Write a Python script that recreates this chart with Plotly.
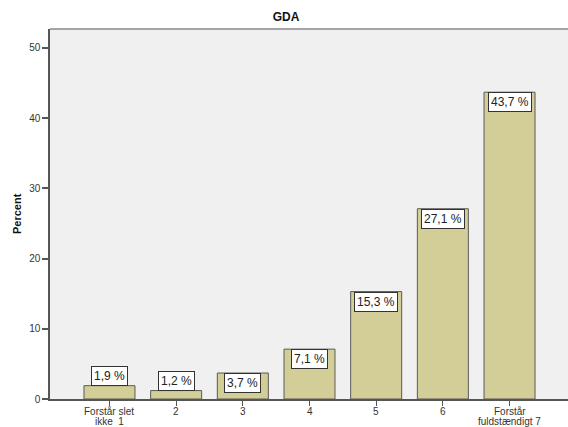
import plotly.graph_objects as go

# Response categories (one list entry per label line) and percentage per category
categories = [
    ["Forstår slet", "ikke  1"],
    ["2"],
    ["3"],
    ["4"],
    ["5"],
    ["6"],
    ["Forstår", "fuldstændigt 7"],
]
percent = [1.9, 1.2, 3.7, 7.1, 15.3, 27.1, 43.7]
y_ticks = [0, 10, 20, 30, 40, 50]

positions = list(range(1, len(categories) + 1))

BAR_FILL = "#D3CE97"
BAR_LINE = "#5A5A5A"
AXIS_COLOR = "#555555"
FONT = "Liberation Sans, Arial, sans-serif"

fig = go.Figure(
    go.Bar(
        x=positions,
        y=percent,
        width=0.765,
        marker=dict(color=BAR_FILL, line=dict(color=BAR_LINE, width=1)),
        hoverinfo="skip",
    )
)

# Value labels: boxed text, inside the bar top when it fits, above otherwise
for pos, val in zip(positions, percent):
    inside = val >= 3.0
    fig.add_annotation(
        x=pos,
        y=val,
        xref="x",
        yref="y",
        text=f"{val:.1f} %".replace(".", ","),
        showarrow=False,
        yanchor="top" if inside else "bottom",
        xanchor="center",
        bgcolor="white",
        bordercolor="#333333",
        borderwidth=1,
        borderpad=2,
        font=dict(family=FONT, size=12, color="#222222"),
    )

# Category labels under the axis, with tight line spacing
line_offsets = [-12.5, -22.5]
for pos, lines in zip(positions, categories):
    for offset, line in zip(line_offsets, lines):
        fig.add_annotation(
            x=pos,
            y=0,
            xref="x",
            yref="paper",
            text=line,
            showarrow=False,
            xanchor="center",
            yanchor="middle",
            yshift=offset,
            font=dict(family=FONT, size=10, color="#333333"),
        )

# Y axis title
fig.add_annotation(
    text="<b>Percent</b>",
    xref="paper",
    yref="paper",
    x=(17 - 50) / 518,
    y=0.5,
    textangle=-90,
    showarrow=False,
    xanchor="center",
    yanchor="middle",
    font=dict(family=FONT, size=11, color="#111111"),
)

# Top frame line of the plot area
fig.add_shape(
    type="line",
    xref="paper",
    yref="paper",
    x0=0,
    x1=1,
    y0=1,
    y1=1,
    line=dict(color="#8A8A8A", width=1.5),
)

fig.update_layout(
    width=568,
    height=427,
    margin=dict(l=50, r=0, t=29, b=28, autoexpand=False),
    paper_bgcolor="white",
    plot_bgcolor="#F0F0F0",
    showlegend=False,
    title=dict(
        text="<b>GDA</b>",
        x=286 / 568,
        xanchor="center",
        y=1 - 17 / 427,
        yanchor="middle",
        font=dict(family=FONT, size=12, color="#111111"),
    ),
    xaxis=dict(
        range=[0.108, 7.877],
        tickmode="array",
        tickvals=positions,
        ticktext=[""] * len(positions),
        ticks="outside",
        ticklen=5,
        tickwidth=1,
        tickcolor=AXIS_COLOR,
        showline=True,
        linecolor=AXIS_COLOR,
        linewidth=1.5,
        showgrid=False,
        zeroline=False,
        automargin=False,
        fixedrange=True,
    ),
    yaxis=dict(
        range=[0, 52.7],
        tickmode="array",
        tickvals=y_ticks,
        ticks="outside",
        ticklen=6,
        tickwidth=1.5,
        tickcolor=AXIS_COLOR,
        showline=True,
        linecolor=AXIS_COLOR,
        linewidth=1.5,
        showgrid=False,
        zeroline=False,
        automargin=False,
        tickfont=dict(family=FONT, size=10, color="#333333"),
        fixedrange=True,
    ),
)

fig.write_html("out.html")
